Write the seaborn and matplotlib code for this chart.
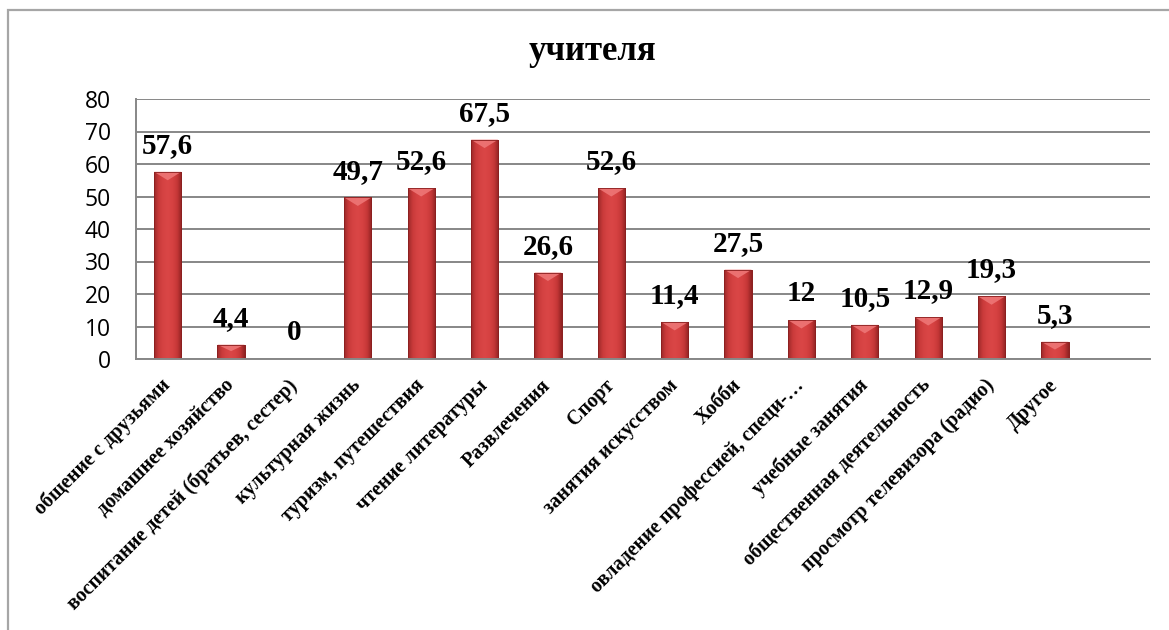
import numpy as np
import pandas as pd
import matplotlib
matplotlib.use("Agg")
import matplotlib.pyplot as plt
from matplotlib.patches import Rectangle, Polygon
from matplotlib.colors import LinearSegmentedColormap
import seaborn as sns

# Survey shares (%) of teachers' leisure activities
categories = [
    "общение с друзьями",
    "домашнее хозяйство",
    "воспитание детей (братьев, сестер)",
    "культурная жизнь",
    "туризм, путешествия",
    "чтение литературы",
    "Развлечения",
    "Спорт",
    "занятия искусством",
    "Хобби",
    "овладение профессией, специ-…",
    "учебные занятия",
    "общественная деятельность",
    "просмотр телевизора (радио)",
    "Другое",
]
values = [57.6, 4.4, 0, 49.7, 52.6, 67.5, 26.6, 52.6, 11.4, 27.5, 12, 10.5, 12.9, 19.3, 5.3]
y_ticks = [0, 10, 20, 30, 40, 50, 60, 70, 80]
title = "учителя"

# one spare empty slot after the last category
slots = categories + [" "]

df = pd.DataFrame({"category": categories, "value": values})

sns.set_theme(style="white")
serif = ["Liberation Serif", "DejaVu Serif"]
plt.rcParams["font.family"] = ["Open Sans", "DejaVu Sans"]
plt.rcParams["text.color"] = "black"
plt.rcParams["xtick.color"] = "black"
plt.rcParams["ytick.color"] = "black"

W, H = 1169, 630
fig = plt.figure(figsize=(W / 100, H / 100), dpi=100)
ax = fig.add_axes([136 / W, 1 - 359 / H, 1014 / W, 260 / H])

sns.barplot(data=df, x="category", y="value", order=slots, color="#c63a3a",
            width=0.43, ax=ax, errorbar=None, saturation=1,
            edgecolor="#8a1f1f", linewidth=0.6)

# cylinder-like shading on each bar
shade = LinearSegmentedColormap.from_list(
    "bar", ["#9b2828", "#c93a3a", "#d64343", "#da4646", "#d64242", "#c53737", "#8e2222"])
grad = np.linspace(0, 1, 128).reshape(1, -1)
for p in list(ax.patches):
    x0, w, h = p.get_x(), p.get_width(), p.get_height()
    if not np.isfinite(h) or h <= 0:
        continue
    im = ax.imshow(grad, cmap=shade, extent=[x0, x0 + w, 0, h], aspect="auto",
                   zorder=2.1, interpolation="bilinear")
    im.set_clip_path(p)
    d = min(2.6, h * 0.45)
    ax.add_patch(Polygon([[x0, h], [x0 + w, h], [x0 + w / 2, h - d]],
                         closed=True, facecolor="#ee7676", edgecolor="none",
                         alpha=0.9, zorder=2.2))
    ax.add_patch(Rectangle((x0, 0), w, h, facecolor="none",
                           edgecolor="#8a1f1f", linewidth=0.6, zorder=2.3))

# value labels
for i, v in enumerate(values):
    txt = f"{v:g}".replace(".", ",")
    ax.annotate(txt, (i, v), xytext=(0, 13.5), textcoords="offset points",
                ha="center", va="baseline", fontsize=21, fontweight="bold",
                family=serif, color="black", zorder=5)

ax.set_xlim(-0.5, len(slots) - 0.5)
ax.set_ylim(0, 80)
ax.set_yticks(y_ticks)
ax.set_yticklabels([str(t) for t in y_ticks], fontsize=16.5, color="black")
ax.yaxis.grid(True, color="#878787", linewidth=1.4)
ax.set_axisbelow(True)
ax.set_xlabel("")
ax.set_ylabel("")

for s in ["top", "right"]:
    ax.spines[s].set_visible(False)
for s in ["left", "bottom"]:
    ax.spines[s].set_color("#878787")
    ax.spines[s].set_linewidth(1.4)

ax.set_xticks(range(len(slots)))
ax.set_xticklabels(slots, rotation=45, ha="right", va="center", rotation_mode="anchor",
                   fontsize=14.5, fontweight="bold", family=serif, color="black")
ax.tick_params(axis="x", which="major", length=0, pad=17)
ax.set_xticks(np.arange(-0.5, len(slots), 1), minor=True)
ax.tick_params(axis="x", which="minor", length=6, width=1.2, color="#878787", direction="out")
ax.tick_params(axis="y", length=6, width=1.2, color="#878787", direction="out", pad=12,
               labelcolor="black")

fig.text(592 / W, 1 - 52 / H, title, ha="center", va="center",
         fontsize=25, fontweight="bold", family=serif, color="black")

# chart area border
fig.patches.append(Rectangle((8 / W, -0.2), 1.3, 1 - 10 / H + 0.2, transform=fig.transFigure,
                             fill=False, edgecolor="#a6a6a6", linewidth=1.6))

fig.savefig("out.png", dpi=100)
